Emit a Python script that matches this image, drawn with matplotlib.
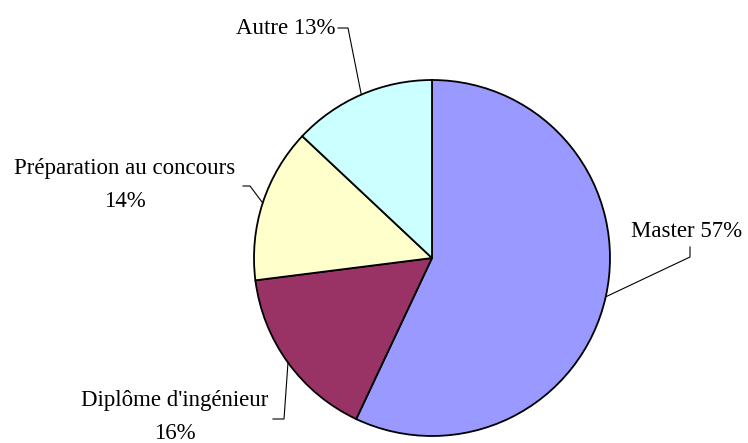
import numpy as np
import matplotlib
matplotlib.use("Agg")
import matplotlib.pyplot as plt

labels = ["Master", "Diplôme d'ingénieur", "Préparation au concours", "Autre"]
values = [57, 16, 14, 13]
colors = ["#9999FF", "#993366", "#FFFFCC", "#CCFFFF"]
label_texts = ["Master 57%", "Diplôme d'ingénieur\n16%", "Préparation au concours\n14%", "Autre 13%"]

W, H = 748, 443
fig = plt.figure(figsize=(W / 100, H / 100), dpi=100)
ax = fig.add_axes([0, 0, 1, 1])

cx, cy, r = 432, H - 258, 178
wedges, _ = ax.pie(values, colors=colors, startangle=90, counterclock=False,
                   center=(cx, cy), radius=r, frame=True,
                   wedgeprops=dict(edgecolor="black", linewidth=1.3))
ax.set_xlim(0, W)
ax.set_ylim(0, H)
ax.set_aspect("equal")
ax.axis("off")

layout = [
    dict(tx=687, ty=231, ha="center", pts=[(690, 257), (690, 247)]),
    dict(tx=175, ty=417, ha="center", pts=[(284, 419), (273, 419)]),
    dict(tx=125, ty=185, ha="center", pts=[(250, 186), (243, 186)]),
    dict(tx=336, ty=28, ha="right", pts=[(348, 28), (338, 28)]),
]

font = dict(family="Liberation Serif", fontsize=16.5, color="black")
for w, txt, lay in zip(wedges, label_texts, layout):
    ang = np.deg2rad((w.theta1 + w.theta2) / 2)
    ax_ = cx + r * np.cos(ang)
    ay_ = cy + r * np.sin(ang)
    xs = [ax_] + [p[0] for p in lay["pts"]]
    ys = [ay_] + [H - p[1] for p in lay["pts"]]
    ax.plot(xs, ys, color="black", linewidth=0.8)
    ax.text(lay["tx"], H - lay["ty"], txt, ha=lay["ha"], va="center",
            multialignment="center", linespacing=1.72, **font)

fig.savefig("out.png", dpi=100)
